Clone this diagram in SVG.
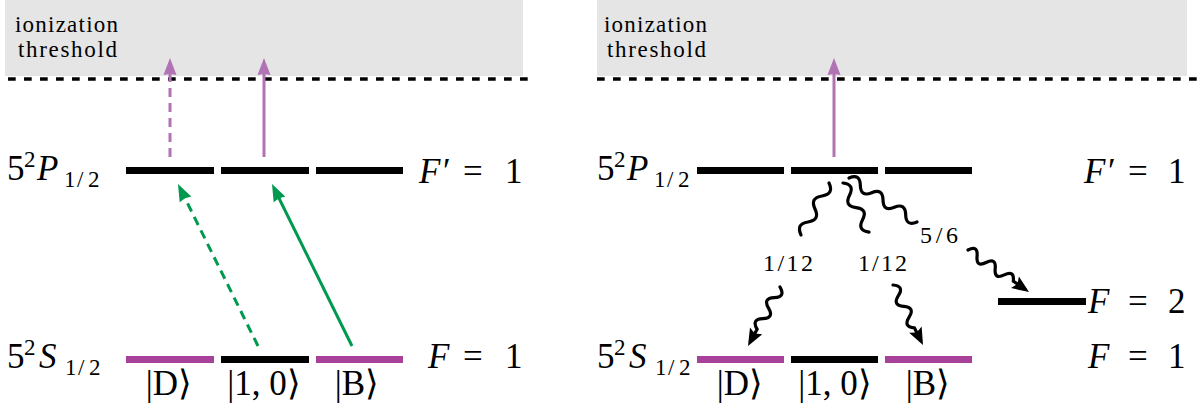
<svg xmlns="http://www.w3.org/2000/svg" width="1204" height="410" viewBox="0 0 1204 410" font-family="Liberation Serif">
<defs>
  <marker id="ahP" markerUnits="userSpaceOnUse" viewBox="-13 -8 19 16" markerWidth="19" markerHeight="16" refX="0" refY="0" orient="auto">
    <path d="M5,0 L-12,-6.5 L-11,0 L-12,6.5 Z" fill="#b173b4"/>
  </marker>
  <marker id="ahG" markerUnits="userSpaceOnUse" viewBox="-13 -8 19 16" markerWidth="19" markerHeight="16" refX="0" refY="0" orient="auto">
    <path d="M5,0 L-12,-6.5 L-11,0 L-12,6.5 Z" fill="#00994f"/>
  </marker>
  <marker id="ahK" markerUnits="userSpaceOnUse" viewBox="-13 -8 19 16" markerWidth="19" markerHeight="16" refX="0" refY="0" orient="auto">
    <path d="M5,0 L-12,-7 L-9,0 L-12,7 Z" fill="#000"/>
  </marker>
</defs>

<g id="threshold-left">
  <rect fill="#e5e5e5" x="5" y="0" width="518" height="76"/>
  <text font-family="Liberation Serif" style="font-family:'Liberation Serif',serif;font-size:23px" x="15" y="32" textLength="103" lengthAdjust="spacing">ionization</text>
  <text font-family="Liberation Serif" style="font-family:'Liberation Serif',serif;font-size:23px" x="18" y="57" textLength="99" lengthAdjust="spacing">threshold</text>
  <line stroke="#000" stroke-width="3.4" stroke-dasharray="7.7 8.3" x1="8" y1="79" x2="528" y2="79"/>
</g>
<g id="P-left">
  <rect fill="#000" x="126" y="167" width="88" height="7"/>
  <rect fill="#000" x="221" y="167" width="88" height="7"/>
  <rect fill="#000" x="316" y="167" width="87" height="7"/>
  <text font-family="Liberation Serif" style="font-family:'Liberation Serif',serif;font-size:35px" x="7" y="180">5<tspan style="font-size:23px" x="24" dy="-13">2</tspan><tspan style="font-style:italic" x="37" dy="13">P</tspan><tspan style="font-size:23px" x="64 77 88" dy="7">1/2</tspan></text>
  <text font-family="Liberation Serif" style="font-family:'Liberation Serif',serif;font-size:35px" y="183"><tspan style="font-style:italic" x="419">F</tspan><tspan x="443">′</tspan><tspan x="463">=</tspan><tspan x="505">1</tspan></text>
</g>
<g id="S-left">
  <rect fill="#a8419a" x="126" y="356" width="88" height="7"/>
  <rect fill="#000" x="221" y="356" width="88" height="7"/>
  <rect fill="#a8419a" x="316" y="356" width="87" height="7"/>
  <text font-family="Liberation Serif" style="font-family:'Liberation Serif',serif;font-size:35px" x="7" y="368">5<tspan style="font-size:23px" x="24" dy="-13">2</tspan><tspan style="font-style:italic" x="39" dy="13">S</tspan><tspan style="font-size:23px" x="65 78 89" dy="7">1/2</tspan></text>
  <text font-family="Liberation Serif" style="font-family:'Liberation Serif',serif;font-size:35px" y="368"><tspan style="font-style:italic" x="428">F</tspan><tspan x="463">=</tspan><tspan x="505">1</tspan></text>
  <text font-family="Liberation Serif" style="font-family:'Liberation Serif',serif;font-size:35px" text-anchor="middle" x="169" y="395">|D⟩</text>
  <text font-family="Liberation Serif" style="font-family:'Liberation Serif',serif;font-size:35px" text-anchor="middle" x="264" y="395">|1, 0⟩</text>
  <text font-family="Liberation Serif" style="font-family:'Liberation Serif',serif;font-size:35px" text-anchor="middle" x="357" y="395">|B⟩</text>
</g>

<g id="threshold-right">
  <rect fill="#e5e5e5" x="597" y="0" width="590" height="76"/>
  <text font-family="Liberation Serif" style="font-family:'Liberation Serif',serif;font-size:23px" x="604" y="32" textLength="103" lengthAdjust="spacing">ionization</text>
  <text font-family="Liberation Serif" style="font-family:'Liberation Serif',serif;font-size:23px" x="607" y="57" textLength="99" lengthAdjust="spacing">threshold</text>
  <line stroke="#000" stroke-width="3.4" stroke-dasharray="7.7 8.3" x1="597" y1="79" x2="1204" y2="79"/>
</g>
<g id="P-right">
  <rect fill="#000" x="697" y="167" width="87" height="7"/>
  <rect fill="#000" x="791" y="167" width="87" height="7"/>
  <rect fill="#000" x="885" y="167" width="87" height="7"/>
  <text font-family="Liberation Serif" style="font-family:'Liberation Serif',serif;font-size:35px" x="597" y="180">5<tspan style="font-size:23px" x="614" dy="-13">2</tspan><tspan style="font-style:italic" x="627" dy="13">P</tspan><tspan style="font-size:23px" x="654 667 678" dy="7">1/2</tspan></text>
  <text font-family="Liberation Serif" style="font-family:'Liberation Serif',serif;font-size:35px" y="183"><tspan style="font-style:italic" x="1084">F</tspan><tspan x="1108">′</tspan><tspan x="1128">=</tspan><tspan x="1168">1</tspan></text>
</g>
<g id="F2-right">
  <rect fill="#000" x="998" y="298" width="88" height="7"/>
  <text font-family="Liberation Serif" style="font-family:'Liberation Serif',serif;font-size:35px" y="313"><tspan style="font-style:italic" x="1088">F</tspan><tspan x="1128">=</tspan><tspan x="1168">2</tspan></text>
</g>
<g id="S-right">
  <rect fill="#a8419a" x="697" y="356" width="87" height="7"/>
  <rect fill="#000" x="791" y="356" width="87" height="7"/>
  <rect fill="#a8419a" x="885" y="356" width="87" height="7"/>
  <text font-family="Liberation Serif" style="font-family:'Liberation Serif',serif;font-size:35px" x="597" y="368">5<tspan style="font-size:23px" x="614" dy="-13">2</tspan><tspan style="font-style:italic" x="629" dy="13">S</tspan><tspan style="font-size:23px" x="655 668 679" dy="7">1/2</tspan></text>
  <text font-family="Liberation Serif" style="font-family:'Liberation Serif',serif;font-size:35px" y="368"><tspan style="font-style:italic" x="1088">F</tspan><tspan x="1128">=</tspan><tspan x="1168">1</tspan></text>
  <text font-family="Liberation Serif" style="font-family:'Liberation Serif',serif;font-size:35px" text-anchor="middle" x="740" y="395">|D⟩</text>
  <text font-family="Liberation Serif" style="font-family:'Liberation Serif',serif;font-size:35px" text-anchor="middle" x="835" y="395">|1, 0⟩</text>
  <text font-family="Liberation Serif" style="font-family:'Liberation Serif',serif;font-size:35px" text-anchor="middle" x="928" y="395">|B⟩</text>
</g>

<g id="connectors" fill="none">
  <path stroke="#b173b4" stroke-width="3" stroke-dasharray="9 6" marker-end="url(#ahP)" d="M170,157 L170,63"/>
  <path stroke="#b173b4" stroke-width="3" marker-end="url(#ahP)" d="M264,157 L264,63"/>
  <path stroke="#00994f" stroke-width="3" stroke-dasharray="9 6" marker-end="url(#ahG)" d="M258,346 L180.2,188.5"/>
  <path stroke="#00994f" stroke-width="3" marker-end="url(#ahG)" d="M352,346 L274.2,188.5"/>
  <path stroke="#b173b4" stroke-width="3" marker-end="url(#ahP)" d="M834,157 L834,63"/>
  <g stroke="#000" stroke-width="3.2" stroke-linecap="round">
    <path transform="translate(829,183) rotate(118.3)" d="M0,0 q7.375,-10 14.75,0 t14.75,0 t14.75,0 t14.75,0"/>
    <path transform="translate(843,183) rotate(62.05)" d="M0,0 q6.95,-10 13.9,0 t13.9,0 t13.9,0 t13.9,0"/>
    <path transform="translate(849,178) rotate(32.9)" d="M0,0 q6.75,-10 13.5,0 t13.5,0 t13.5,0 t13.5,0 t13.5,0 t13.5,0"/>
    <path marker-end="url(#ahK)" transform="translate(780,287) rotate(118.5)" d="M0,0 q6,-10 12,0 t12,0 t12,0 t12,0 L62,0"/>
    <path marker-end="url(#ahK)" transform="translate(893,285) rotate(63.4)" d="M0,0 q6,-10 12,0 t12,0 t12,0 t12,0 L62,0"/>
    <path marker-end="url(#ahK)" transform="translate(968,250) rotate(34.5)" d="M0,0 q5.5,-10 11,0 t11,0 t11,0 t11,0 t11,0 L69,0"/>
  </g>
  <text fill="#000" font-family="Liberation Serif" style="font-family:'Liberation Serif',serif;font-size:24px" x="763" y="271" textLength="50" lengthAdjust="spacing">1/12</text>
  <text fill="#000" font-family="Liberation Serif" style="font-family:'Liberation Serif',serif;font-size:24px" x="858" y="271" textLength="49" lengthAdjust="spacing">1/12</text>
  <text fill="#000" font-family="Liberation Serif" style="font-family:'Liberation Serif',serif;font-size:24px" x="920" y="243" textLength="38" lengthAdjust="spacing">5/6</text>
</g>
</svg>
